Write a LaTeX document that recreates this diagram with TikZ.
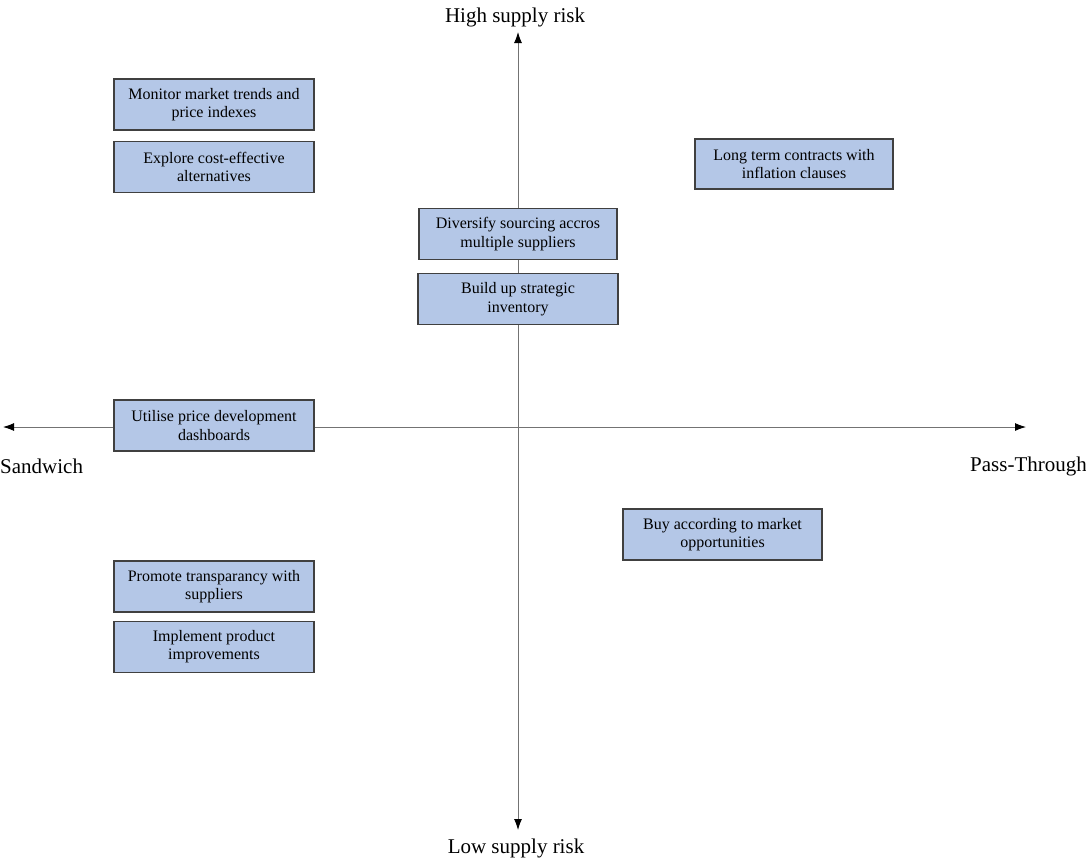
\documentclass[tikz,border=0pt]{standalone}
\usepackage{fontspec}
\setmainfont{Liberation Serif}
\usetikzlibrary{arrows.meta,positioning}
\definecolor{boxblue}{RGB}{180,199,231}
\definecolor{boxline}{RGB}{64,64,64}

\begin{document}
\begin{tikzpicture}[
  x=1pt, y=-1pt,
  node distance=10pt,
  measure/.style={draw, fill=boxblue, draw=boxline, line width=1.2pt, align=center,
    minimum width=200pt, minimum height=51pt, inner sep=2pt,
    font=\fontsize{16}{18.5}\selectfont},
  axislabel/.style={font=\fontsize{21}{24}\selectfont, inner sep=0pt},
  axis/.style={draw=gray!90!black, line width=0.9pt, -{Latex[length=11pt, width=8pt, black]}}
]
\useasboundingbox (0,0) rectangle (1086,860);

% axes
\coordinate (origin) at (518,427);
\coordinate (west) at (3,427);
\coordinate (east) at (1026,427);
\coordinate (north) at (518,32);
\coordinate (south) at (518,830);
\node[axislabel] (high) at (515,17) {High supply risk};
\node[axislabel] (low) at (516,848) {Low supply risk};
\node[axislabel, anchor=west] (sandwich) at (0,466) {Sandwich};
\node[axislabel, anchor=west] (passthrough) at (970,466) {Pass-Through};

\draw[axis] (origin) -- (north);
\draw[axis] (origin) -- (south);
\draw[axis] (origin) -- (west);
\draw[axis] (origin) -- (east);

% sandwich, high risk
\node[measure] (monitor) at (214,104.5) {Monitor market trends and\\price indexes};
\node[measure, below=of monitor] (explore) {Explore cost-effective\\alternatives};

% middle, high risk
\node[measure, minimum width=198pt] (diversify) at (518,234) {Diversify sourcing accros\\multiple suppliers};
\node[measure, below=13pt of diversify] (inventory) {Build up strategic\\inventory};

% pass-through, high risk
\node[measure, minimum width=198pt, minimum height=50pt] (contracts) at (794,164) {Long term contracts with\\inflation clauses};

% on the axis
\node[measure] (dashboards) at (214,425.5) {Utilise price development\\dashboards};

% pass-through, low risk
\node[measure, minimum width=199pt] (opportunities) at (722.5,534.5) {Buy according to market\\opportunities};

% sandwich, low risk
\node[measure] (transparency) at (214,586.5) {Promote transparancy with\\suppliers};
\node[measure, below=8pt of transparency] (improvements) {Implement product\\improvements};
\end{tikzpicture}
\end{document}
